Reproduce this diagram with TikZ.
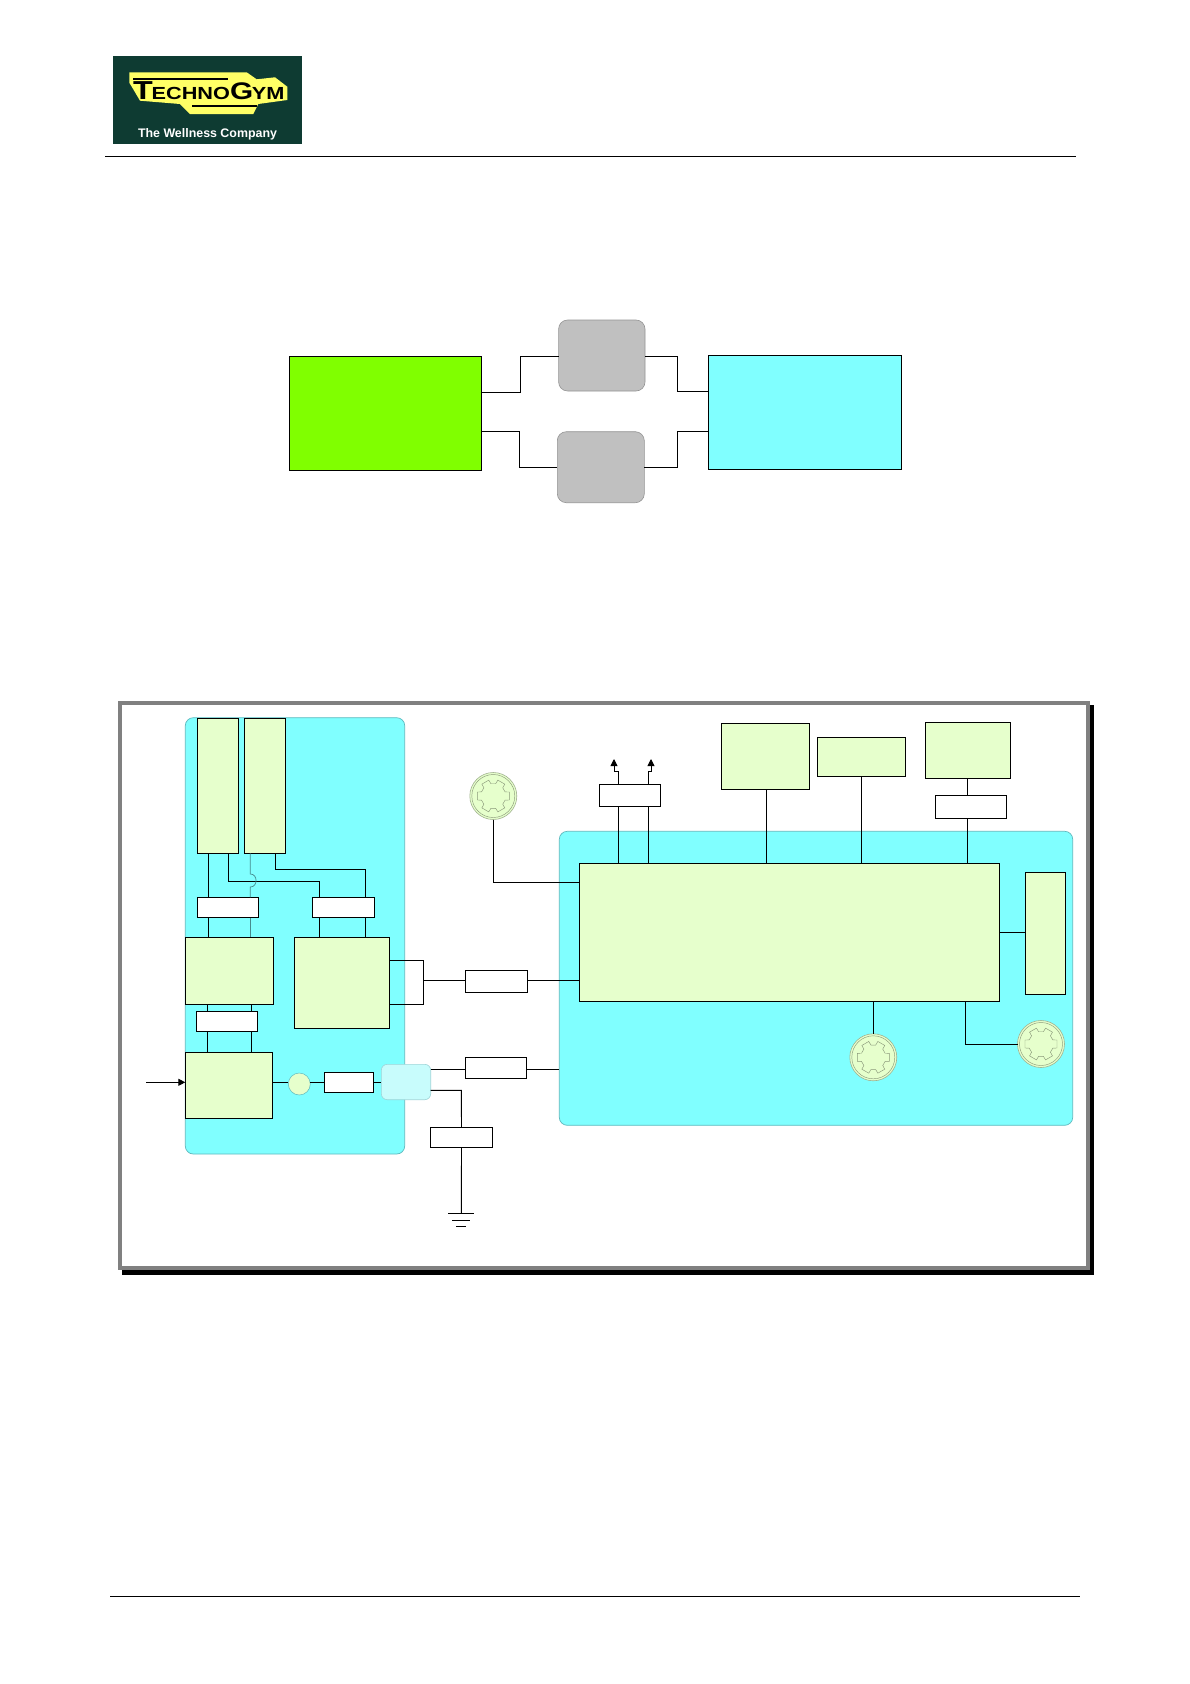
\documentclass[tikz,border=0pt]{standalone}
\usepackage{fontspec}
\setmainfont{Liberation Sans}
\usepackage{xcolor}
\usepackage{graphicx}
\usepackage{tikz}
\usetikzlibrary{arrows.meta, shapes.geometric}
\definecolor{tgdark}{RGB}{14,59,50}
\definecolor{tgyellow}{RGB}{255,255,102}
\definecolor{tggreen}{RGB}{128,255,0}
\definecolor{tgcyan}{RGB}{128,255,255}
\definecolor{tggray}{RGB}{192,192,192}
\definecolor{tgpale}{RGB}{230,255,204}
\definecolor{tgice}{RGB}{200,252,252}
\definecolor{tgteal}{RGB}{95,185,190}
\definecolor{tgframe}{RGB}{128,128,128}
\tikzset{
    sized/.style 2 args={minimum width=#1pt, minimum height=#2pt},
    block/.style={draw=black, line width=0.9pt, anchor=north west, inner sep=0pt, outer sep=0pt},
    pale/.style={block, fill=tgpale},
    whitebox/.style={block, fill=white},
    panel/.style={block, draw=tgteal, line width=0.7pt, fill=tgcyan, rounded corners=8pt},
    graybox/.style={block, draw=gray!85, line width=0.6pt, fill=tggray, rounded corners=9pt},
    icebox/.style={block, draw=tgteal!60, line width=0.6pt, fill=tgice, rounded corners=6pt},
    gearnode/.style={circle, draw=black!30!tgpale, line width=0.6pt, fill=tgpale, inner sep=0pt, outer sep=0pt, minimum size=47pt},
    cogline/.style={draw=black!40!tgpale, line width=0.45pt},
    wire/.style={draw=black, line width=0.9pt},
    tipwire/.style={wire, -{Triangle[length=7pt, width=7pt]}},
    hopwire/.style={draw=tgteal!75!black, line width=0.7pt},
    rule/.style={draw=black, line width=0.8pt},
}
\newcommand{\gearcog}[1]{
    \draw[cogline, shift={(#1.center)}] (74:16.5) \foreach \a in {90,150,...,390} { -- (\a-16:16.5) -- (\a-11:12.5) -- (\a+11:12.5) -- (\a+16:16.5) } -- cycle;
    \draw[cogline, shift={(#1.center)}] (0,0) circle (21.5);
}
\begin{document}
\begin{tikzpicture}[x=1pt, y=-1pt]
    \useasboundingbox (0,0) rectangle (1190,1684);
    % header and footer
    \node[block, draw=none, fill=tgdark, sized={189}{88}] (logo) at (113,56) {};
    \fill[tgyellow] (129.3,72.3) -- (246.7,72.3) -- (256.7,79.3) -- (275,77.3) -- (287.3,86.7) -- (287.3,100) -- (258.3,104) -- (253.3,114) -- (190,114) -- (180,104) -- (140,100.7) -- (132.7,88.3) -- (129.3,82.7) -- cycle;
    \node[anchor=base west, inner sep=0pt, font=\bfseries] (brand) at (133,99) {\scalebox{1.24}[1]{\fontsize{26}{26}\selectfont T\kern-1pt\fontsize{17.5}{17.5}\selectfont ECHNO\fontsize{24}{24}\selectfont G\kern-1pt\fontsize{17.5}{17.5}\selectfont YM}};
    \fill[black] (133,78) rectangle (228,80.2);
    \fill[black] (192,104.5) rectangle (257,106.7);
    \node[anchor=base, inner sep=0pt, font=\bfseries\fontsize{12.4}{13}\selectfont, text=white] (slogan) at (207.5,137.7) {The Wellness Company};
    \draw[rule] (105,156) -- (1076,156);
    \draw[rule] (110,1596) -- (1080,1596);

    % upper diagram
    \node[block, fill=tggreen, sized={191.8}{114}] (driver) at (289.4,356.3) {};
    \node[block, fill=tgcyan, sized={192.2}{114}] (unit) at (708.8,355.3) {};
    \node[graybox, sized={86.4}{71}] (grayone) at (558.6,320) {};
    \node[graybox, sized={87}{71}] (graytwo) at (557.3,431.7) {};
    \draw[wire] (driver.east |- 0,392.3) -- (520,392.3) -- (520,356.3) -- (grayone.west |- 0,356.3);
    \draw[wire] (grayone.east |- 0,356.3) -- (677,356.3) -- (677,391) -- (unit.west |- 0,391);
    \draw[wire] (driver.east |- 0,431.3) -- (519,431.3) -- (519,467.3) -- (graytwo.west |- 0,467.3);
    \draw[wire] (graytwo.east |- 0,467.3) -- (677,467.3) -- (677,431.3) -- (unit.west |- 0,431.3);

    % frame with shadow
    \node[block, draw=none, fill=black, sized={972}{570}] (shadow) at (122,705) {};
    \node[block, draw=tgframe, line width=4pt, fill=white, sized={968}{565}] (frame) at (120,703) {};

    % panels
    \node[panel, sized={219.4}{436.3}] (leftpanel) at (185.3,717.7) {};
    \node[panel, sized={513.4}{294}] (rightpanel) at (559.3,831.3) {};

    % left panel blocks
    \node[pale, sized={41.4}{135}] (tallone) at (197.3,718.3) {};
    \node[pale, sized={41.4}{135}] (talltwo) at (244.3,718.3) {};
    \node[whitebox, sized={61.4}{20.4}] (whiteone) at (197.3,897.3) {};
    \node[whitebox, sized={62.4}{20.4}] (whitetwo) at (312.3,897.3) {};
    \node[pale, sized={88.4}{67}] (boxa) at (185.3,937.3) {};
    \node[pale, sized={95.4}{91}] (boxb) at (294.3,937.3) {};
    \node[whitebox, sized={61.4}{20.4}] (whitefour) at (196.3,1011.3) {};
    \node[pale, sized={87.4}{66}] (boxc) at (185.3,1052.3) {};
    \node[circle, draw=tgteal, line width=0.5pt, fill=tgpale, inner sep=0pt, outer sep=0pt, minimum size=22pt] (fuse) at (299.3,1084) {};
    \node[whitebox, sized={49.4}{20.4}] (whitefive) at (324.3,1072.3) {};
    \node[icebox, sized={49.4}{35.4}] (ice) at (381.3,1064.3) {};

    % outside blocks
    \node[whitebox, sized={62.4}{22.3}] (whitethree) at (465.3,970) {};
    \node[whitebox, sized={61.4}{21.4}] (whitesix) at (465.3,1057.3) {};
    \node[whitebox, sized={62.4}{20}] (whiteseven) at (430.3,1127.3) {};
    \node[whitebox, sized={61.4}{22.4}] (whiteeight) at (599.3,784.3) {};
    \node[pale, sized={88.4}{66}] (boxd) at (721.3,723.3) {};
    \node[pale, sized={88.4}{39}] (boxe) at (817.3,737.3) {};
    \node[pale, sized={85.4}{56}] (boxf) at (925.3,722.3) {};
    \node[whitebox, sized={71.4}{23}] (whitenine) at (935.3,795.3) {};

    % right panel blocks
    \node[pale, sized={420}{138}] (mainbox) at (579.3,863.3) {};
    \node[pale, sized={40.4}{122.4}] (boxg) at (1025.3,872.3) {};
    \node[gearnode] (gearone) at (493.3,796) {};
    \node[gearnode] (geartwo) at (873.3,1057.3) {};
    \node[gearnode] (gearthree) at (1041,1044) {};
    \foreach \g in {gearone,geartwo,gearthree} { \gearcog{\g} }

    % left panel wiring
    \draw[wire] (tallone.south -| 208.3,0) -- (whiteone.north -| 208.3,0);
    \draw[wire] (whiteone.south -| 208.3,0) -- (boxa.north -| 208.3,0);
    \draw[wire] (tallone.south -| 228.3,0) -- (228.3,881.3) -- (319.3,881.3) -- (whitetwo.north -| 319.3,0);
    \draw[wire] (talltwo.south -| 275.3,0) -- (275.3,869.7) -- (365.7,869.7) -- (whitetwo.north -| 365.7,0);
    \foreach \x in {319.3,365.7} { \draw[wire] (whitetwo.south -| \x,0) -- (boxb.north -| \x,0); }
    \draw[hopwire] (talltwo.south -| 250.3,0) -- (250.3,874) .. controls (258,874) and (258,887) .. (250.3,887) -- (whiteone.north -| 250.3,0);
    \draw[hopwire] (whiteone.south -| 250.3,0) -- (boxa.north -| 250.3,0);
    \foreach \x in {207.3,251.3} {
        \draw[wire] (boxa.south -| \x,0) -- (whitefour.north -| \x,0);
        \draw[wire] (whitefour.south -| \x,0) -- (boxc.north -| \x,0);
    }
    \coordinate (input) at (146,1082.3);
    \draw[tipwire] (input) -- (boxc.west |- input);
    \draw[wire] (boxc.east |- input) -- (fuse.west |- input);
    \draw[wire] (fuse.east |- input) -- (whitefive.west |- input);
    \draw[wire] (whitefive.east |- input) -- (ice.west |- input);

    % links between the panels
    \draw[wire] (boxb.east |- 0,960.3) -- (423.3,960.3) -- (423.3,1004.3) -- (boxb.east |- 0,1004.3);
    \draw[wire] (423.3,980.3) -- (whitethree.west |- 0,980.3);
    \draw[wire] (whitethree.east |- 0,980.3) -- (mainbox.west |- 0,980.3);
    \draw[wire] (ice.east |- 0,1069.3) -- (whitesix.west |- 0,1069.3);
    \draw[wire] (whitesix.east |- 0,1069.3) -- (rightpanel.west |- 0,1069.3);
    \draw[wire] (ice.east |- 0,1090.3) -- (461.3,1090.3) -- (whiteseven.north);
    \coordinate (earth) at (461.3,1213.3);
    \draw[wire] (whiteseven.south) -- (earth);
    \draw[wire] (448.3,1213.3) -- (474,1213.3);
    \draw[wire] (452,1220) -- (470,1220);
    \draw[wire] (456,1226.3) -- (466,1226.3);

    % right panel wiring
    \draw[wire] (gearone.south) -- (493.3,882.3) -- (mainbox.west |- 0,882.3);
    \draw[wire] (mainbox.north -| 618.3,0) -- (whiteeight.south -| 618.3,0);
    \draw[wire] (mainbox.north -| 648.3,0) -- (whiteeight.south -| 648.3,0);
    \draw[tipwire] (whiteeight.north -| 618.3,0) -- (618.3,771) -- (614,771) -- (614,759);
    \draw[tipwire] (whiteeight.north -| 648.3,0) -- (648.3,771) -- (651,771) -- (651,759);
    \draw[wire] (mainbox.north -| 766.3,0) -- (boxd.south -| 766.3,0);
    \draw[wire] (mainbox.north -| 861.3,0) -- (boxe.south -| 861.3,0);
    \draw[wire] (mainbox.north -| 967.3,0) -- (whitenine.south -| 967.3,0);
    \draw[wire] (whitenine.north -| 967.3,0) -- (boxf.south -| 967.3,0);
    \draw[wire] (mainbox.east |- 0,932.3) -- (boxg.west |- 0,932.3);
    \draw[wire] (mainbox.south -| geartwo.north) -- (geartwo.north);
    \draw[wire] (mainbox.south -| 965.3,0) -- (965.3,1044) -- (gearthree.west);
\end{tikzpicture}
\end{document}
